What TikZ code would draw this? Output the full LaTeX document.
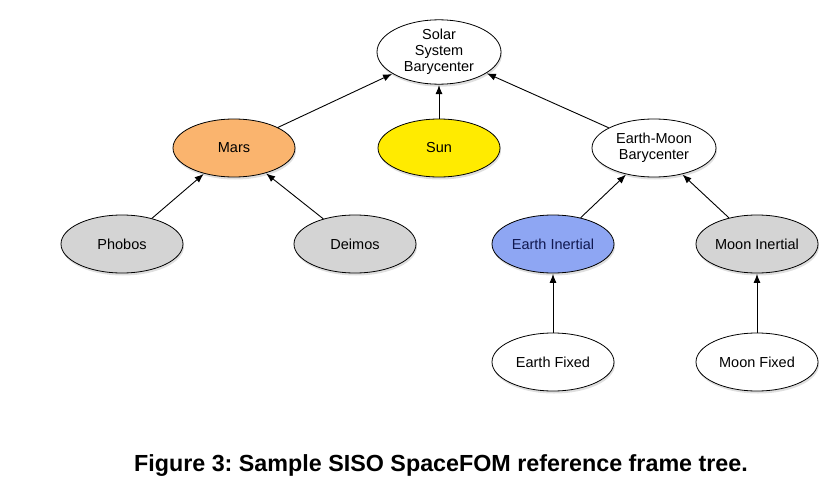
\documentclass[tikz,border=0pt]{standalone}
\usepackage{fontspec}
\setmainfont{Liberation Sans}
\usetikzlibrary{shapes.geometric,shadows,arrows.meta}
\frenchspacing
\definecolor{marsc}{HTML}{FAB46E}
\definecolor{sunc}{HTML}{FFEB00}
\definecolor{earthc}{HTML}{8EA6F3}
\definecolor{greyc}{HTML}{D4D4D4}
\definecolor{navy}{HTML}{101850}
\tikzset{
  frame/.style={ellipse, draw=black, line width=0.8pt, fill=white, minimum width=122pt, minimum height=58pt,
    inner sep=0pt, align=center, font=\fontsize{14.5}{16}\selectfont,
    drop shadow={opacity=0.25, shadow xshift=1pt, shadow yshift=-2.5pt}},
  link/.style={-{Latex[length=9pt,width=7pt]}, line width=0.9pt, shorten >=0.5pt}
}
\begin{document}
\begin{tikzpicture}[x=1pt,y=-1pt]
\useasboundingbox (0,0) rectangle (838,487);
\node[frame, minimum width=124pt, minimum height=64pt] (ssb) at (439,52) {Solar\\System\\Barycenter};
\node[frame, fill=marsc] (mars) at (234,148) {Mars};
\node[frame, fill=sunc] (sun) at (439,148) {Sun};
\node[frame, minimum width=124pt] (emb) at (654,148) {Earth-Moon\\Barycenter};
\node[frame, fill=greyc] (phobos) at (122,244) {Phobos};
\node[frame, fill=greyc] (deimos) at (355,244) {Deimos};
\node[frame, fill=earthc, text=navy] (ei) at (553,244) {Earth Inertial};
\node[frame, fill=greyc] (mi) at (757,244) {Moon Inertial};
\node[frame] (ef) at (553,362) {Earth Fixed};
\node[frame] (mf) at (757,362) {Moon Fixed};
\draw[link] (mars) -- (ssb);
\draw[link] (sun) -- (ssb);
\draw[link] (emb) -- (ssb);
\draw[link] (phobos) -- (mars);
\draw[link] (deimos) -- (mars);
\draw[link] (ei) -- (emb);
\draw[link] (mi) -- (emb);
\draw[link] (ef) -- (ei);
\draw[link] (mf) -- (mi);
\node[font=\fontsize{23.3}{27}\selectfont\bfseries] (cap) at (441,466) {Figure 3: Sample SISO SpaceFOM reference frame tree.};
\end{tikzpicture}
\end{document}
